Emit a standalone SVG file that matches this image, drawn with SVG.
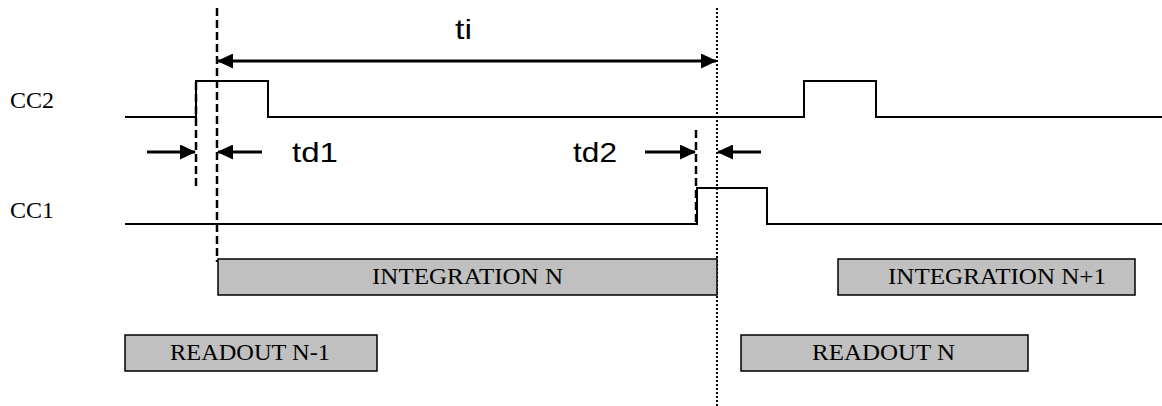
<svg xmlns="http://www.w3.org/2000/svg" width="1162" height="406" viewBox="0 0 1162 406">
<style>
.sig{fill:none;stroke:#000;stroke-width:2}
.dash{stroke:#000;stroke-width:2.5;stroke-dasharray:8,4;fill:none}
.dot{stroke:#000;stroke-width:2;stroke-dasharray:2,2;fill:none}
.arr{stroke:#000;stroke-width:3;fill:none}
.box{fill:#c0c0c0;stroke:#000;stroke-width:1.5}
.lbl{font-family:"Liberation Serif","Times New Roman",serif;font-size:24px;fill:#000}
.big{font-family:"Liberation Sans",Arial,sans-serif;font-size:28px;fill:#000}
</style>
<defs>
<marker id="ah" markerWidth="16" markerHeight="15" refX="15" refY="7.5" orient="auto-start-reverse" markerUnits="userSpaceOnUse">
<path d="M0,0 L16,7.5 L0,15 Z" fill="#000"/>
</marker>
</defs>
<g id="signals">
<text class="lbl" x="10" y="108">CC2</text>
<path id="cc2" class="sig" d="M125,117 H196 V81 H268 V117 H804 V81 H876 V117 H1162"/>
<text class="lbl" x="10" y="218">CC1</text>
<path id="cc1" class="sig" d="M125,224 H697 V188 H767 V224 H1162"/>
</g>
<g id="connectors">
<line class="dash" x1="217" y1="8" x2="217" y2="262"/>
<line class="dash" x1="196" y1="82" x2="196" y2="190"/>
<line class="dash" x1="696" y1="130" x2="696" y2="224"/>
<line class="dot" x1="717" y1="8" x2="717" y2="406"/>
<line class="arr" x1="218" y1="61" x2="716" y2="61" marker-start="url(#ah)" marker-end="url(#ah)"/>
<line class="arr" x1="147" y1="152" x2="195" y2="152" marker-end="url(#ah)"/>
<line class="arr" x1="262" y1="152" x2="218" y2="152" marker-end="url(#ah)"/>
<line class="arr" x1="645" y1="152" x2="695" y2="152" marker-end="url(#ah)"/>
<line class="arr" x1="761" y1="152" x2="718" y2="152" marker-end="url(#ah)"/>
</g>
<g id="labels">
<text class="big" x="455" y="39" textLength="17" lengthAdjust="spacingAndGlyphs">ti</text>
<text class="big" x="292" y="162" textLength="46" lengthAdjust="spacingAndGlyphs">td1</text>
<text class="big" x="573" y="162" textLength="44" lengthAdjust="spacingAndGlyphs">td2</text>
</g>
<g id="integration-n">
<rect class="box" x="218" y="259" width="499" height="36"/>
<text class="lbl" x="372" y="284" textLength="191" lengthAdjust="spacingAndGlyphs">INTEGRATION N</text>
</g>
<g id="integration-n1">
<rect class="box" x="838" y="259" width="297" height="36"/>
<text class="lbl" x="888" y="284" textLength="218" lengthAdjust="spacingAndGlyphs">INTEGRATION N+1</text>
</g>
<g id="readout-n-1">
<rect class="box" x="125" y="335" width="252" height="36"/>
<text class="lbl" x="170" y="360" textLength="160" lengthAdjust="spacingAndGlyphs">READOUT N-1</text>
</g>
<g id="readout-n">
<rect class="box" x="741" y="335" width="287" height="36"/>
<text class="lbl" x="812" y="360" textLength="143" lengthAdjust="spacingAndGlyphs">READOUT N</text>
</g>
</svg>
